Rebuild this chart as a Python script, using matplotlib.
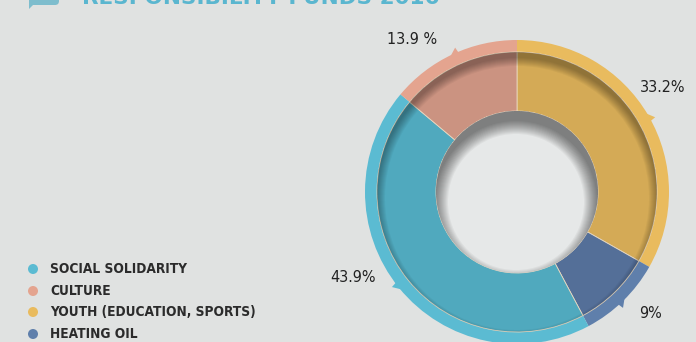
import numpy as np
import matplotlib
import matplotlib.pyplot as plt
from matplotlib.patches import Wedge, Circle, Polygon, FancyBboxPatch

matplotlib.use('Agg')

# 数据
categories = ['SOCIAL SOLIDARITY', 'CULTURE', 'YOUTH (EDUCATION, SPORTS)', 'HEATING OIL']
shares = [43.9, 13.9, 33.2, 9.0]
share_labels = ['43.9%', '13.9 %', '33.2%', '9%']
ring_colors = ['#5bbbd2', '#e4a48f', '#e9bb5e', '#5f7fab']
face_colors = ['#50a9be', '#cb9381', '#d4aa56', '#546f98']
title = 'RESPONSIBILITY FUNDS 2016'

# 环形图的顺序: 从正上方顺时针
pie_order = [2, 3, 0, 1]
pie_values = [shares[i] for i in pie_order]

BG = '#e0e2e1'
W, H = 696, 342
cx, cy = 517, 150
R_OUT, R_IN, R_HOLE = 152, 140, 81

fig = plt.figure(figsize=(W / 100, H / 100), dpi=100, facecolor=BG)
ax = fig.add_axes([0, 0, 1, 1])
ax.set_facecolor(BG)

# 外圈浅色环
ax.pie(pie_values, radius=R_OUT, center=(cx, cy), startangle=90, counterclock=False,
       colors=[ring_colors[i] for i in pie_order],
       wedgeprops=dict(width=R_OUT - R_IN + 1, linewidth=0))
# 内圈深色扇形
wedges, _ = ax.pie(pie_values, radius=R_IN, center=(cx, cy), startangle=90, counterclock=False,
                   colors=[face_colors[i] for i in pie_order],
                   wedgeprops=dict(width=R_IN - R_HOLE, linewidth=0.6, edgecolor='#e8d8c0'))

# 内阴影 (上方较深)
clip_ring = Circle((cx, cy), R_IN, transform=ax.transData)
for k in range(9):
    sh = Wedge((cx, cy - 6), 400, 0, 360, width=400 - (R_IN - 1.0 * k),
               facecolor='black', alpha=0.04, linewidth=0)
    ax.add_patch(sh)
    sh.set_clip_path(clip_ring)

# 中间的孔
ax.add_patch(Circle((cx, cy), R_HOLE, facecolor='#e6e8e8', linewidth=0))
clip_hole = Circle((cx, cy), R_HOLE, transform=ax.transData)
for k in range(14):
    sh = Wedge((cx - 1, cy - 10), 400, 0, 360, width=400 - (R_HOLE - 1.0 * k),
               facecolor='black', alpha=0.04, linewidth=0)
    ax.add_patch(sh)
    sh.set_clip_path(clip_hole)

# 外圈上的小三角指针 (位于每个扇形中点)
total = sum(pie_values)
start = 90.0
for v, idx in zip(pie_values, pie_order):
    span = 360.0 * v / total
    mid = np.deg2rad(start - span / 2)
    tang = np.array([-np.sin(mid), np.cos(mid)])
    radial = np.array([np.cos(mid), np.sin(mid)])
    base = np.array([cx, cy]) + radial * (R_OUT - 1)
    tri = [base - tang * 6, base + tang * 3, base + radial * 6 - tang * 5]
    ax.add_patch(Polygon(tri, closed=True, facecolor=ring_colors[idx], linewidth=0))
    start -= span

# 百分比标签
label_pos = {0: (353, 65), 1: (412, 302), 2: (663, 254), 3: (651, 29)}
for i, txt in enumerate(share_labels):
    x, y = label_pos[i]
    ax.text(x, y, txt, ha='center', va='center', fontsize=11.5,
            family='DejaVu Sans', fontstretch='condensed', color='#222222')

# 图例
leg_y = [73, 51, 30, 8]
for name, col, y in zip(categories, ring_colors, leg_y):
    ax.add_patch(Circle((33, y), 5, facecolor=col, linewidth=0))
    ax.text(50, y, name, ha='left', va='center', fontsize=9.8, fontweight='bold',
            family='DejaVu Sans', fontstretch='condensed', color='#2b2b2b')

# 标题 (顶部被裁切)
ax.text(82, 338.5, title, ha='left', va='baseline', fontsize=15.5, fontweight='bold',
        family='DejaVu Sans', color='#5ab6cf')
ax.add_patch(FancyBboxPatch((29, 337), 30, 20, boxstyle='round,pad=0,rounding_size=4',
                            facecolor='#7ebdcd', linewidth=0))
ax.add_patch(Polygon([(29, 342), (29, 333), (35, 339)], closed=True,
                     facecolor='#7ebdcd', linewidth=0))

ax.set_xlim(0, W)
ax.set_ylim(0, H)
ax.set_aspect('auto')
ax.axis('off')

plt.savefig('out.png', dpi=100, facecolor=BG)
plt.close()
